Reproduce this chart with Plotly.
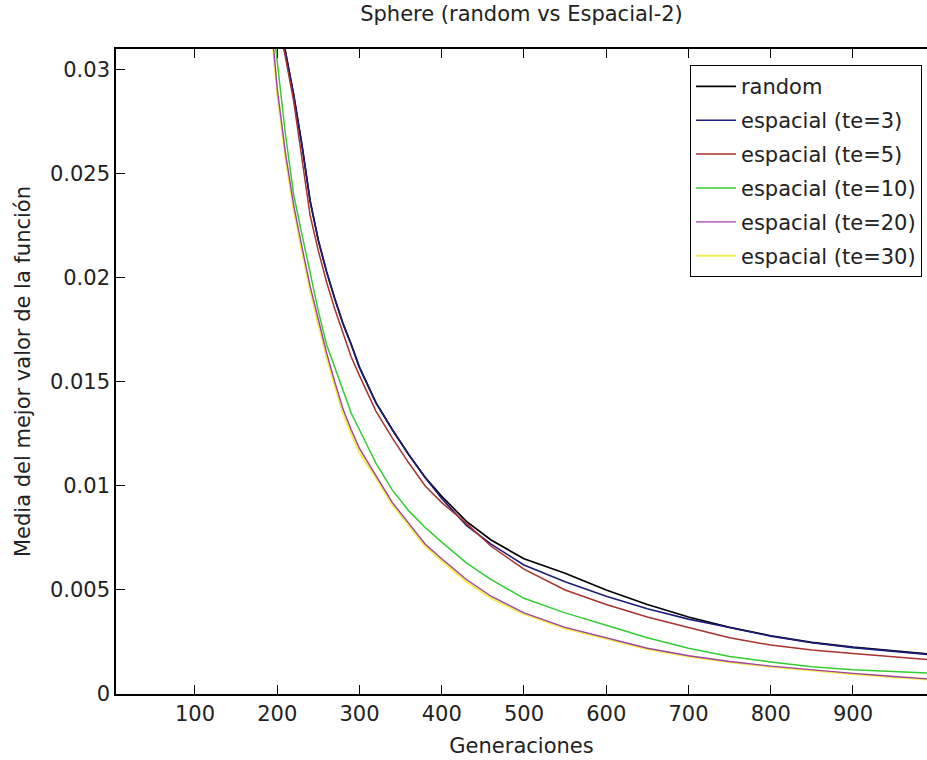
import plotly.graph_objects as go

# Generations (x) shared by all series
generations = [190, 200, 210, 220, 230, 240, 250, 260, 270, 280, 290, 300, 320, 340, 360,
               380, 400, 430, 460, 500, 550, 600, 650, 700, 750, 800, 850, 900, 950, 1000]

random_vals = [0.0350, 0.0329, 0.0309, 0.0288, 0.0264, 0.0237, 0.0218, 0.0203, 0.0190, 0.0178,
               0.0168, 0.0157, 0.0140, 0.0127, 0.0115, 0.0104, 0.0095, 0.0083, 0.0074, 0.0065,
               0.0058, 0.0050, 0.0043, 0.0037, 0.0032, 0.0028, 0.00248, 0.00225, 0.00207, 0.00189]

te3_vals = [0.0350, 0.0329, 0.0309, 0.0288, 0.0264, 0.0237, 0.0218, 0.0203, 0.0190, 0.0178,
            0.0168, 0.0157, 0.0140, 0.0127, 0.0115, 0.0104, 0.0094, 0.0081, 0.0072, 0.0062,
            0.0054, 0.0047, 0.0041, 0.0036, 0.0032, 0.00278, 0.00246, 0.00223, 0.00205, 0.00187]

te5_vals = [0.0345, 0.0326, 0.0306, 0.0285, 0.0258, 0.0230, 0.0213, 0.0198, 0.0185, 0.0173,
            0.0162, 0.0153, 0.0136, 0.0123, 0.0111, 0.0100, 0.0092, 0.0082, 0.0071, 0.0060,
            0.0050, 0.0043, 0.0037, 0.0032, 0.0027, 0.00235, 0.00211, 0.00195, 0.00178, 0.00162]

te10_vals = [0.0343, 0.0304, 0.0269, 0.0240, 0.0221, 0.0202, 0.0184, 0.0168, 0.0157, 0.0146,
             0.0135, 0.0127, 0.0111, 0.0098, 0.0088, 0.0080, 0.0073, 0.0063, 0.0055, 0.0046,
             0.0039, 0.0033, 0.0027, 0.0022, 0.0018, 0.00154, 0.00131, 0.00117, 0.00108, 0.00099]

te20_vals = [0.0335, 0.0291, 0.0260, 0.0235, 0.0215, 0.0196, 0.0180, 0.0164, 0.0150, 0.0137,
             0.0127, 0.0118, 0.0105, 0.0092, 0.0082, 0.0072, 0.0065, 0.0055, 0.0047, 0.0039,
             0.0032, 0.0027, 0.0022, 0.00184, 0.00156, 0.00134, 0.00115, 0.00099, 0.00084, 0.0007]

te30_vals = [0.0332, 0.0289, 0.0258, 0.0233, 0.0213, 0.0194, 0.0178, 0.0162, 0.0148, 0.0135,
             0.0125, 0.0116, 0.0104, 0.0091, 0.0081, 0.0071, 0.0064, 0.0054, 0.0046, 0.00385,
             0.00315, 0.00266, 0.00216, 0.00181, 0.00153, 0.00131, 0.00112, 0.00096, 0.00081, 0.00067]

series_names = ["random", "espacial (te=3)", "espacial (te=5)", "espacial (te=10)",
                "espacial (te=20)", "espacial (te=30)"]
series_vals = [random_vals, te3_vals, te5_vals, te10_vals, te20_vals, te30_vals]
series_colors = ["#000000", "#1c1c7a", "#a8322e", "#33cc33", "#a040a8", "#f2f050"]
series_widths = [1.7, 1.6, 1.5, 1.5, 1.4, 2.2]
draw_order = [5, 0, 1, 2, 3, 4]   # yellow underneath, the rest on top

x_tickvals = [100, 200, 300, 400, 500, 600, 700, 800, 900]
y_tickvals = [0, 0.005, 0.01, 0.015, 0.02, 0.025, 0.03]
y_ticktext = ["0", "0.005", "0.01", "0.015", "0.02", "0.025", "0.03"]

FONT = "DejaVu Sans"
TXT = "#222222"

fig = go.Figure()
for i in draw_order:
    fig.add_trace(go.Scatter(
        x=generations, y=series_vals[i], mode="lines", name=series_names[i],
        line=dict(color=series_colors[i], width=series_widths[i]),
        legendgroup=f"g{i}", legendrank=i + 1))

fig.update_layout(
    width=927, height=760,
    margin=dict(l=116, r=0, t=49, b=66),
    paper_bgcolor="white", plot_bgcolor="white",
    font=dict(family=FONT, size=21, color=TXT),
    title=dict(text="Sphere (random vs Espacial-2)", x=0.5, xref="paper",
               y=1 - 14 / 760, yref="container", yanchor="middle", xanchor="center",
               font=dict(family=FONT, size=21, color=TXT)),
    showlegend=True,
    legend=dict(x=0.9938, xanchor="right", y=0.975, yanchor="top",
                bgcolor="white", bordercolor="black", borderwidth=1,
                font=dict(family=FONT, size=21, color=TXT),
                tracegroupgap=3.6, itemwidth=40, traceorder="grouped"),
    xaxis=dict(range=[4, 990], tickvals=x_tickvals, ticks="inside", ticklen=9,
               tickcolor="black", tickwidth=1, showline=True, linecolor="black",
               linewidth=1.6, mirror="ticks", showgrid=False, zeroline=False,
               tickfont=dict(family=FONT, size=21, color=TXT),
               title=dict(text="Generaciones", standoff=13,
                          font=dict(family=FONT, size=21, color=TXT))),
    yaxis=dict(range=[0, 0.031], tickvals=y_tickvals, ticktext=y_ticktext,
               ticks="inside", ticklen=9, tickcolor="black", tickwidth=1,
               showline=True, linecolor="black", linewidth=1.6, mirror=False,
               showgrid=False, zeroline=False, ticklabelstandoff=0,
               tickfont=dict(family=FONT, size=21, color=TXT),
               title=dict(text="Media del mejor valor de la función", standoff=14,
                          font=dict(family=FONT, size=21, color=TXT))),
)

fig.write_html("out.html")
